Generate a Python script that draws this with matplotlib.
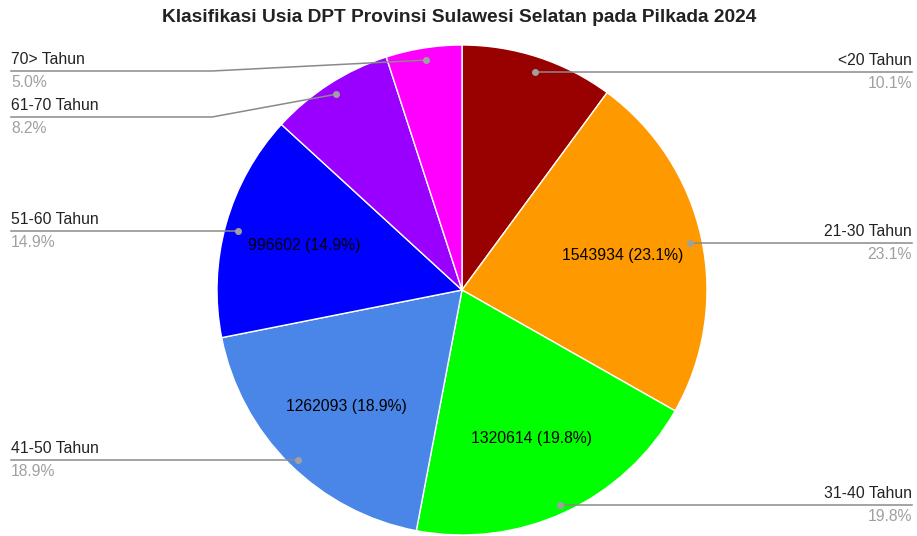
import numpy as np
from matplotlib import pyplot as plt

# Data
kelompok = ['<20 Tahun', '21-30 Tahun', '31-40 Tahun', '41-50 Tahun',
            '51-60 Tahun', '61-70 Tahun', '70> Tahun']
pemilih = [674000, 1543934, 1320614, 1262093, 996602, 547000, 334000]
warna = ['#990000', '#ff9900', '#00ff00', '#4a86e8', '#0000ff', '#9900ff', '#ff00ff']

# layout (pixel space, y measured from top)
W, H = 917, 536
cx, cy, R = 462, 290, 245
label_side = ['right', 'right', 'right', 'left', 'left', 'left', 'left']
label_y = [72, 243, 505, 460, 231, 117, 71]   # y of the leader line under each label
bent = [False, False, False, False, False, True, True]

plt.rcParams['font.family'] = ['Liberation Sans', 'DejaVu Sans']
fig = plt.figure(figsize=(W / 100, H / 100), dpi=100)
ax = fig.add_axes([0, 0, 1, 1])

total = sum(pemilih)
pct = [v / total * 100 for v in pemilih]

def inner(p):
    if p < 12:
        return ''
    v = int(round(p * total / 100))
    return f'{v} ({p:.1f}%)'

wedges, _, autotexts = ax.pie(pemilih, colors=warna, startangle=90, counterclock=False,
                              center=(cx, H - cy), radius=R, autopct=inner,
                              pctdistance=0.67,
                              wedgeprops=dict(edgecolor='white', linewidth=1.0),
                              textprops=dict(fontsize=11.3, color='black'))
ax.set_xlim(0, W)
ax.set_ylim(0, H)
ax.set_aspect('equal')
ax.axis('off')

for w, name, p, side, ly, b in zip(wedges, kelompok, pct, label_side, label_y, bent):
    ang = np.deg2rad((w.theta1 + w.theta2) / 2)
    dx = cx + 0.95 * R * np.cos(ang)
    dy = (H - cy) + 0.95 * R * np.sin(ang)
    yl = H - ly
    if not b:
        dy = yl
    if side == 'right':
        xs, ys = [dx, 912], [yl, yl]
        tx, ha = 912, 'right'
    else:
        xs, ys = [11, dx], [yl, yl]
        if b:
            xs, ys = [11, 212, dx], [yl, yl, dy]
        tx, ha = 11, 'left'
    ax.plot(xs, ys, color='#8a8a8a', lw=1.1, zorder=3)
    ax.plot(dx, dy, 'o', color='#a0a0a0', ms=4, zorder=4)
    ax.text(tx, yl + 4, name, ha=ha, va='bottom', fontsize=11.3, color='#222222')
    ax.text(tx, yl - 4, f'{p:.1f}%', ha=ha, va='top', fontsize=11.3, color='#a0a0a0')

ax.text(W / 2 + 1, H - 17, 'Klasifikasi Usia DPT Provinsi Sulawesi Selatan pada Pilkada 2024',
        ha='center', va='center', fontsize=13.8, fontweight='bold', color='#222222')

fig.savefig('out.png', dpi=100)
